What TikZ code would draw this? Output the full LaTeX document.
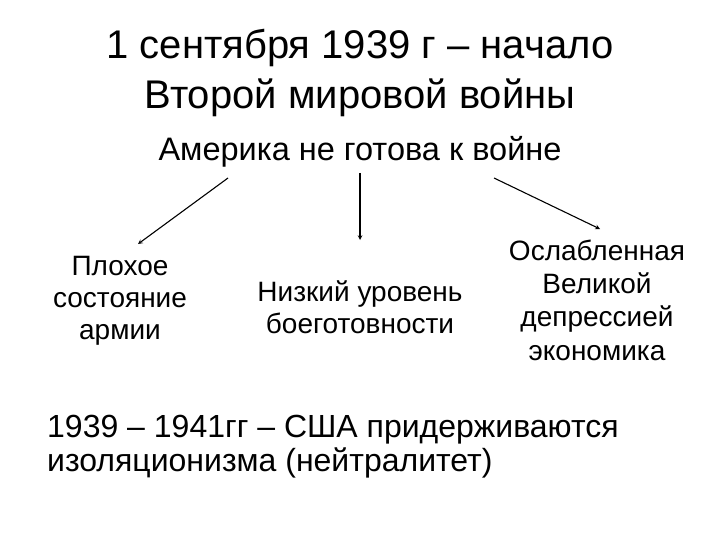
\documentclass[tikz,border=0pt]{standalone}
\usepackage{fontspec}
\setmainfont{Liberation Sans}
\begin{document}
\begin{tikzpicture}[x=1pt,y=-1pt,
  txt/.style={align=center, inner sep=0pt},
  arr/.style={->, >=stealth, line width=1.1pt}]
\useasboundingbox (0,0) rectangle (720,540);
\node[txt, font=\fontsize{40}{50}\selectfont] (title) at (360,73) {1 сентября 1939 г -- начало\\Второй мировой войны};
\node[txt, font=\fontsize{32.5}{34}\selectfont] (usa) at (360,152) {Америка не готова к войне};
\node[txt, font=\fontsize{28}{32}\selectfont] (army) at (120,301) {Плохое\\состояние\\армии};
\node[txt, font=\fontsize{28}{32}\selectfont] (ready) at (360,307) {Низкий уровень\\боеготовности};
\node[txt, font=\fontsize{28}{33.3}\selectfont] (econ) at (597,300) {Ослабленная\\Великой\\депрессией\\экономика};
\node[align=left, inner sep=0pt, anchor=west, font=\fontsize{32}{34}\selectfont] (isol) at (47,447) {1939 -- 1941гг -- США придерживаются\\изоляционизма (нейтралитет)};
\coordinate (a1) at (228,178);
\coordinate (b1) at (138,244);
\coordinate (a2) at (360,173);
\coordinate (b2) at (360,240);
\coordinate (a3) at (494,178);
\coordinate (b3) at (600,229);
\draw[arr] (a1) -- (b1);
\draw[arr] (a2) -- (b2);
\draw[arr] (a3) -- (b3);
\end{tikzpicture}
\end{document}
